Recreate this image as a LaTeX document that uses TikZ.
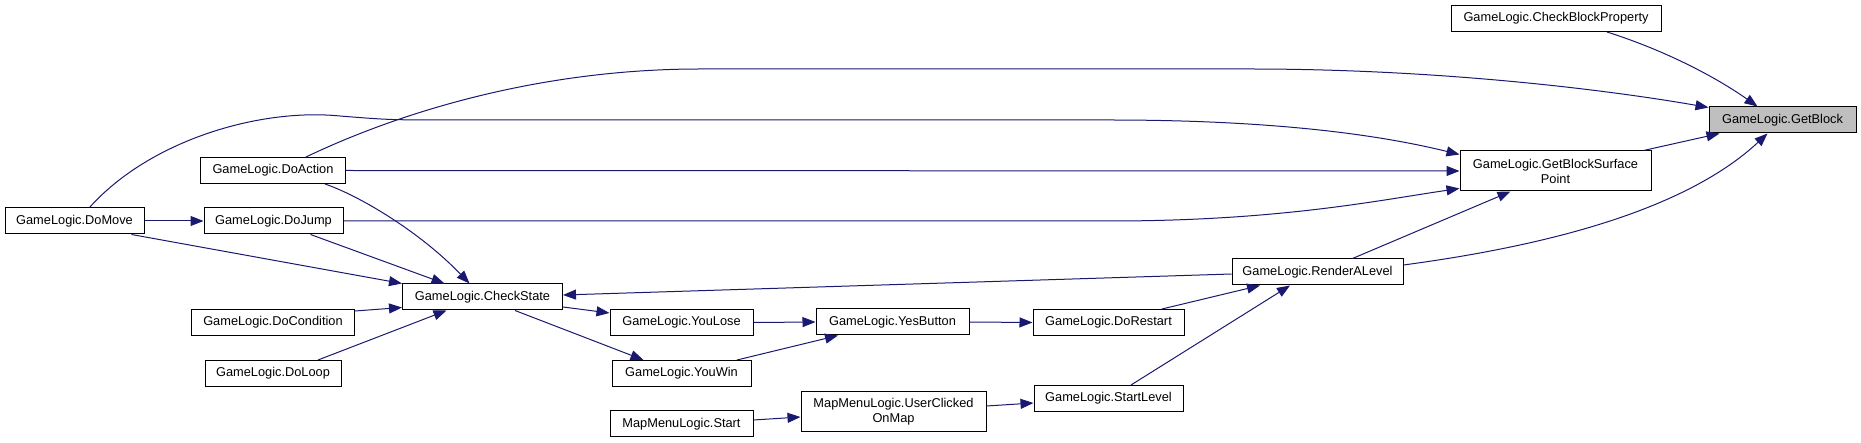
\documentclass[tikz,border=0pt]{standalone}
\usepackage{fontspec}
\setmainfont{Liberation Sans}
\usetikzlibrary{arrows.meta}
\definecolor{edgeblue}{HTML}{191970}
\definecolor{hlgray}{HTML}{BFBFBF}

\begin{document}
\begin{tikzpicture}[
  x=1pt, y=-1pt,
  font=\fontsize{12.8}{15}\selectfont,
  fn/.style={draw=black, line width=1pt, fill=white, align=center, inner sep=0pt, minimum height=26pt},
  hl/.style={fn, fill=hlgray},
  arr/.style={-{Triangle[length=13pt, width=10pt]}, edgeblue, line width=1pt}
]
\useasboundingbox (0,0) rectangle (1861,443);

% callers on the left
\node[fn, minimum width=139pt] (domove) at (74.5,221) {GameLogic.DoMove};
\node[fn, minimum width=145pt] (doaction) at (273,170.5) {GameLogic.DoAction};
\node[fn, minimum width=139pt] (dojump) at (273.5,221) {GameLogic.DoJump};
\node[fn, minimum width=163pt] (docondition) at (273,322.5) {GameLogic.DoCondition};
\node[fn, minimum width=136pt] (doloop) at (273,373.5) {GameLogic.DoLoop};
\node[fn, minimum width=160pt] (checkstate) at (482.5,297) {GameLogic.CheckState};

% middle chain
\node[fn, minimum width=143pt] (youlose) at (681.5,322.5) {GameLogic.YouLose};
\node[fn, minimum width=139pt] (youwin) at (681.5,373.5) {GameLogic.YouWin};
\node[fn, minimum width=143pt] (mapstart) at (681.5,424) {MapMenuLogic.Start};
\node[fn, minimum width=153pt] (yesbutton) at (892.5,322) {GameLogic.YesButton};
\node[fn, minimum width=185pt, minimum height=40pt] (userclicked) at (893.5,412) {MapMenuLogic.UserClicked\\OnMap};
\node[fn, minimum width=151pt] (dorestart) at (1108.5,322.5) {GameLogic.DoRestart};
\node[fn, minimum width=149pt] (startlevel) at (1108.5,398.5) {GameLogic.StartLevel};
\node[fn, minimum width=171pt] (renderlevel) at (1317.5,272) {GameLogic.RenderALevel};

% right side
\node[fn, minimum width=191pt, minimum height=40pt] (gbsp) at (1555.5,171) {GameLogic.GetBlockSurface\\Point};
\node[fn, minimum width=210pt] (checkblockprop) at (1556,18.5) {GameLogic.CheckBlockProperty};
\node[hl, minimum width=147pt] (getblock) at (1782.5,120) {GameLogic.GetBlock};

% edges into GetBlock
\draw[arr] ([xshift=51]checkblockprop.south) .. controls (1670,52) and (1720,80) .. ([xshift=-25]getblock.north);
\draw[arr] ([xshift=33]doaction.north) .. controls (400,112) and (540,69) .. (700,69) -- (1250,69)
  .. controls (1450,69) and (1620,92) .. ([yshift=-1]getblock.north west);
\draw[arr] ([xshift=-8]gbsp.north east) -- ([xshift=11]getblock.south west);
\draw[arr] ([yshift=7]renderlevel.east) .. controls (1530,248) and (1680,215) .. ([xshift=-15]getblock.south);

% edges into GetBlockSurfacePoint
\draw[arr] ([xshift=15]domove.north) .. controls (150,140) and (260,108) .. (340,116)
  .. controls (390,120) .. (460,120) -- (1110,120) .. controls (1300,120) and (1400,140) .. ([yshift=-4]gbsp.north west);
\draw[arr] (doaction.east) -- (gbsp.west);
\draw[arr] (dojump.east) -- (1110,221) .. controls (1280,221) and (1380,200) .. ([yshift=3]gbsp.south west);
\draw[arr] ([xshift=35]renderlevel.north) -- ([xshift=-45]gbsp.south);

% edges into CheckState
\draw[arr] (domove.east) -- (dojump.west);
\draw[arr] ([xshift=57]domove.south) -- (checkstate.north west);
\draw[arr] ([xshift=52]doaction.south) .. controls (360,196) and (420,232) .. ([xshift=-13]checkstate.north);
\draw[arr] ([xshift=37]dojump.south) -- ([xshift=-38]checkstate.north);
\draw[arr] ([yshift=-2]docondition.north east) -- ([yshift=3]checkstate.south west);
\draw[arr] ([xshift=45]doloop.north) -- ([xshift=-36]checkstate.south);
\draw[arr] ([yshift=-2]renderlevel.west) -- ([yshift=2]checkstate.east);

% win / lose chain
\draw[arr] ([yshift=-10]checkstate.east) -- ([yshift=9.5]youlose.west);
\draw[arr] ([xshift=32.5]checkstate.south) -- ([xshift=-38]youwin.north);
\draw[arr] (youlose.east) -- (yesbutton.west);
\draw[arr] ([xshift=55.5]youwin.north) -- ([xshift=-54.5]yesbutton.south);
\draw[arr] (yesbutton.east) -- (dorestart.west);
\draw[arr] ([xshift=53.5]dorestart.north) -- ([xshift=-57.5]renderlevel.south);

% map menu chain
\draw[arr] ([yshift=4]mapstart.east) -- ([yshift=-5]userclicked.west);
\draw[arr] ([yshift=6]userclicked.east) -- ([yshift=-4.5]startlevel.west);
\draw[arr] ([xshift=22.5]startlevel.north) -- ([xshift=-27.5]renderlevel.south);

\end{tikzpicture}
\end{document}
